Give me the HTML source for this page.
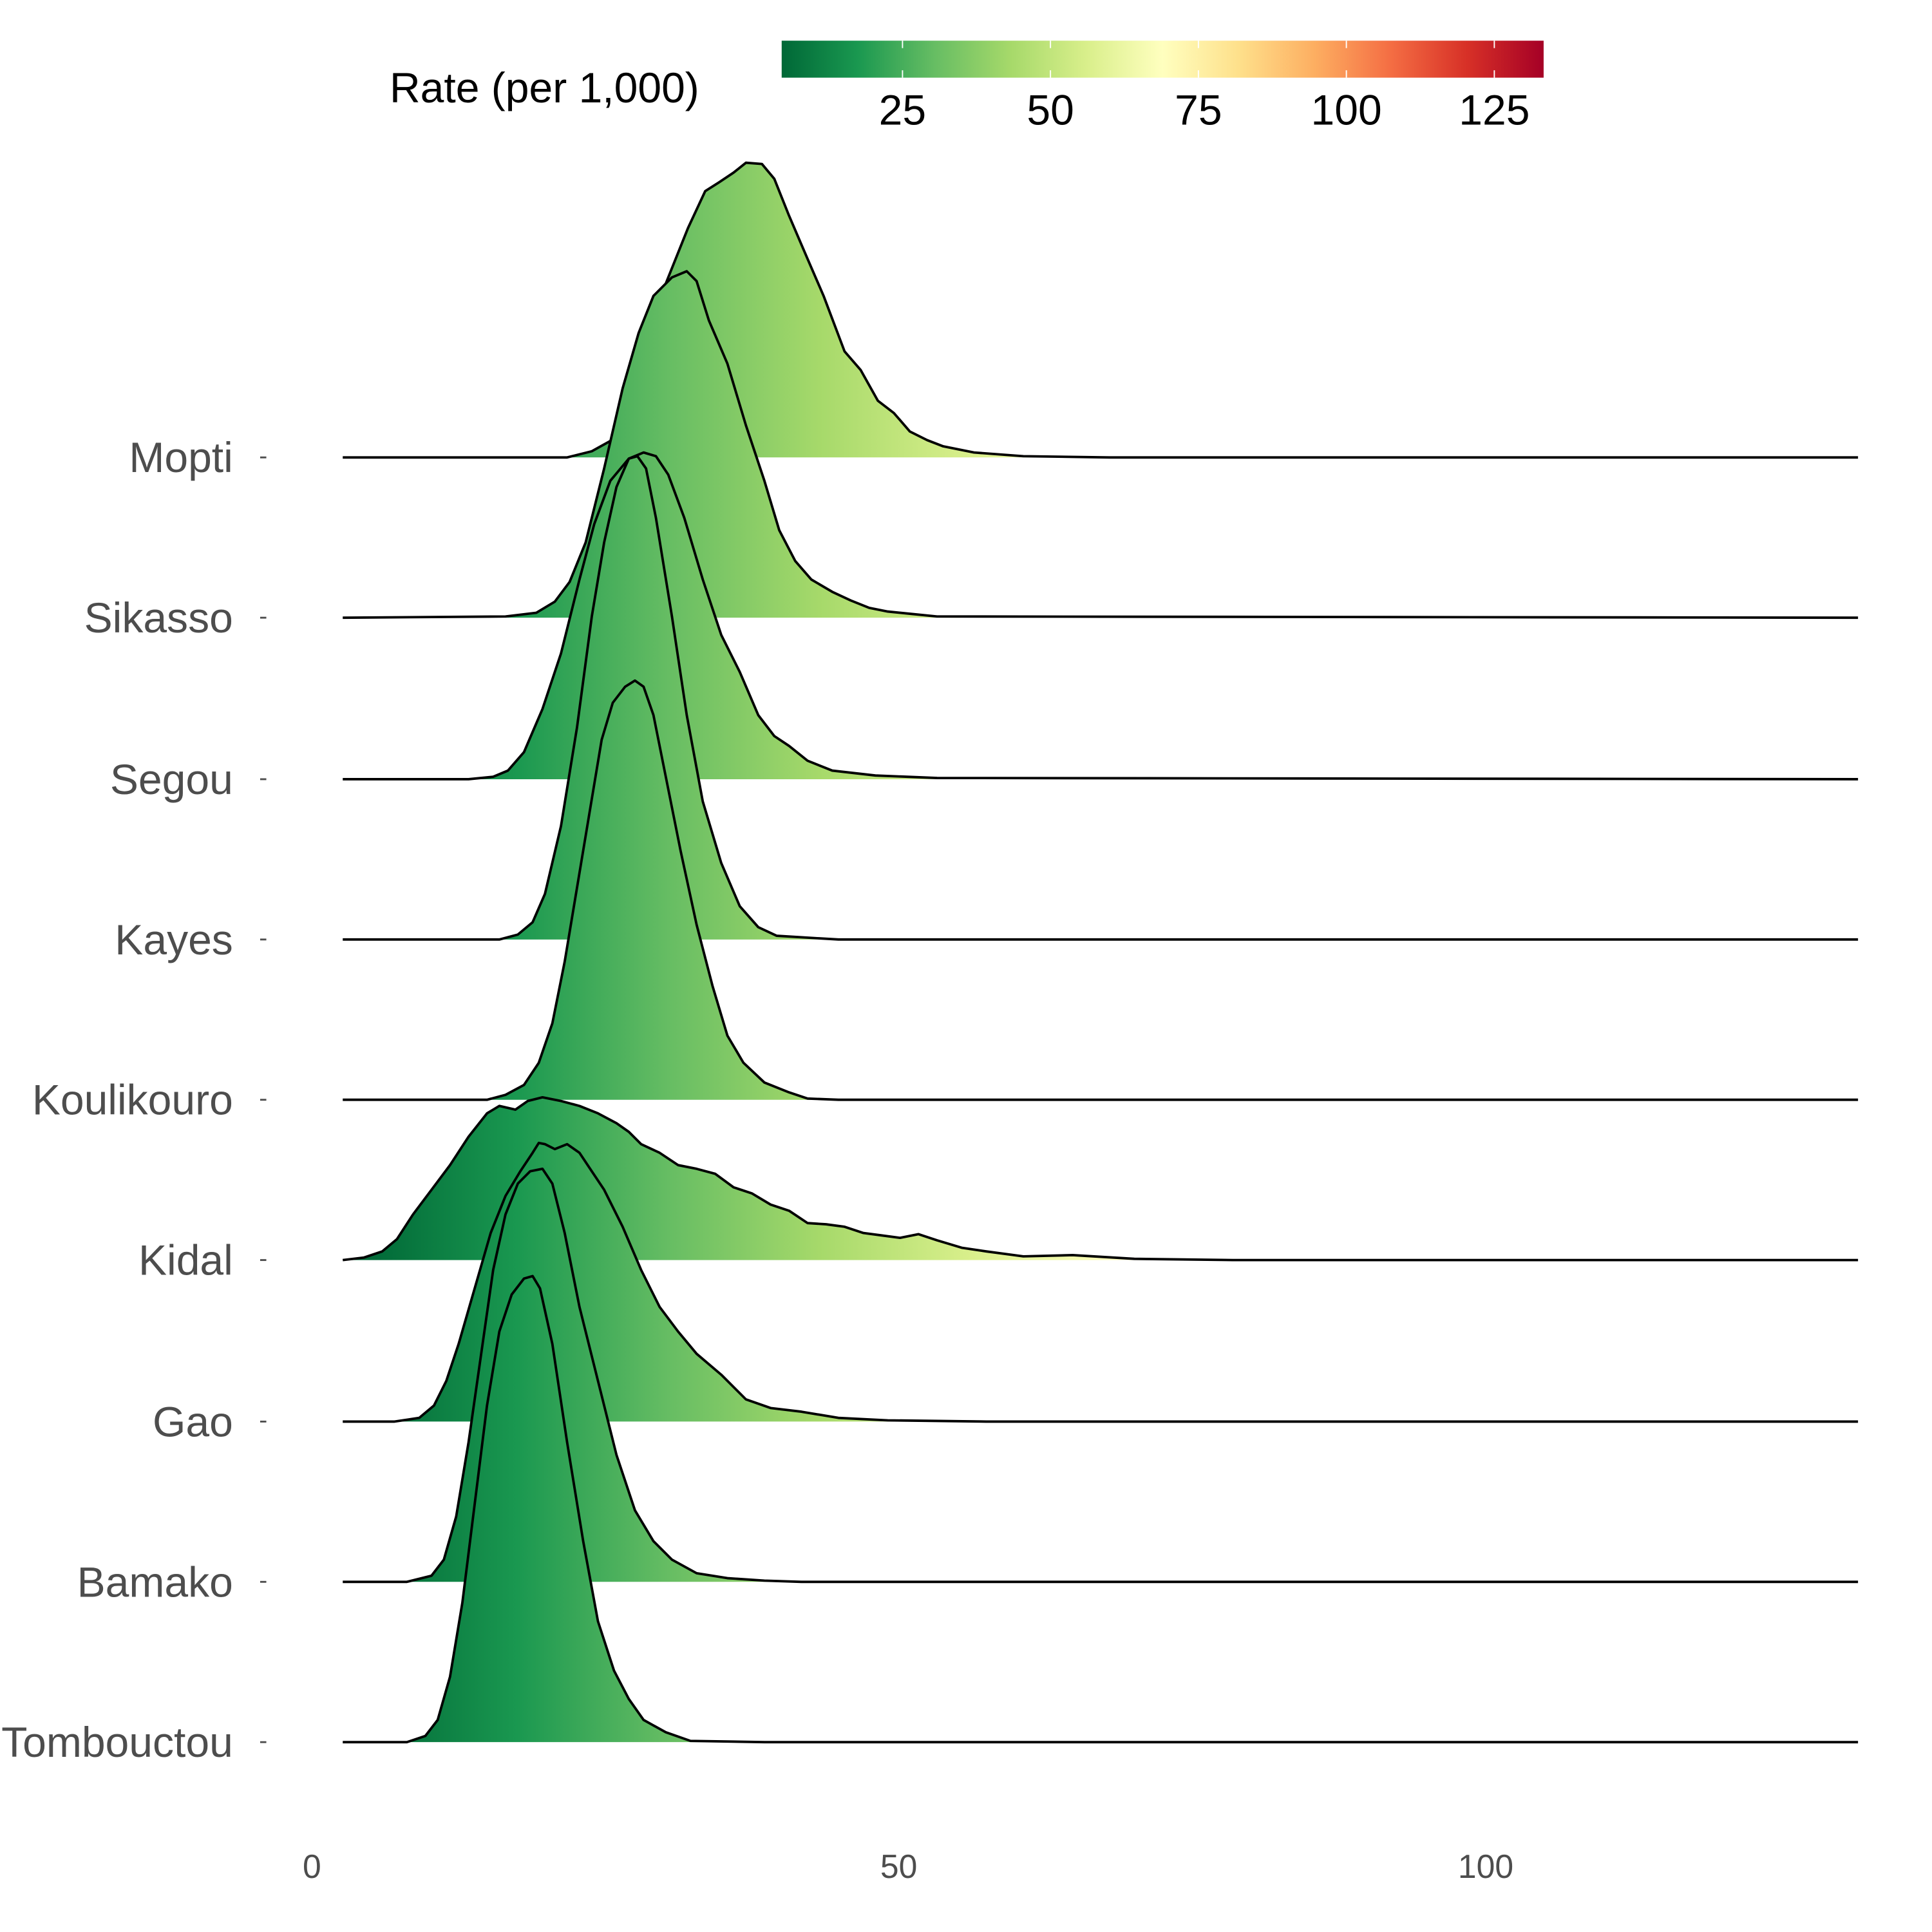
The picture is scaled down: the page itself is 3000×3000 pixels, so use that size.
<!DOCTYPE html>
<html><head><meta charset="utf-8"><style>html,body{margin:0;padding:0;background:#fff}svg{display:block}</style></head>
<body>
<svg xmlns="http://www.w3.org/2000/svg" width="3000" height="3000" viewBox="0 0 1567 1567" font-family="Liberation Sans, Arial, sans-serif">
<defs>
<linearGradient id="g" gradientUnits="userSpaceOnUse" x1="297" y1="0" x2="1522" y2="0">
<stop offset="0" stop-color="#006837"/><stop offset="0.1" stop-color="#1a9850"/><stop offset="0.2" stop-color="#66bd63"/><stop offset="0.3" stop-color="#a6d96a"/><stop offset="0.4" stop-color="#d9ef8b"/><stop offset="0.5" stop-color="#ffffbf"/><stop offset="0.6" stop-color="#fee08b"/><stop offset="0.7" stop-color="#fdae61"/><stop offset="0.8" stop-color="#f46d43"/><stop offset="0.9" stop-color="#d73027"/><stop offset="1" stop-color="#a50026"/>
</linearGradient>
<linearGradient id="cb" x1="0" y1="0" x2="1" y2="0">
<stop offset="0" stop-color="#006837"/><stop offset="0.1" stop-color="#1a9850"/><stop offset="0.2" stop-color="#66bd63"/><stop offset="0.3" stop-color="#a6d96a"/><stop offset="0.4" stop-color="#d9ef8b"/><stop offset="0.5" stop-color="#ffffbf"/><stop offset="0.6" stop-color="#fee08b"/><stop offset="0.7" stop-color="#fdae61"/><stop offset="0.8" stop-color="#f46d43"/><stop offset="0.9" stop-color="#d73027"/><stop offset="1" stop-color="#a50026"/>
</linearGradient>
</defs>
<rect width="1567" height="1567" fill="#fff"/>
<rect x="634" y="33" width="618" height="30" fill="url(#cb)"/>
<g stroke="#fff" stroke-width="1">
<line x1="732" y1="33" x2="732" y2="39"/><line x1="732" y1="57" x2="732" y2="63"/>
<line x1="852" y1="33" x2="852" y2="39"/><line x1="852" y1="57" x2="852" y2="63"/>
<line x1="972" y1="33" x2="972" y2="39"/><line x1="972" y1="57" x2="972" y2="63"/>
<line x1="1092" y1="33" x2="1092" y2="39"/><line x1="1092" y1="57" x2="1092" y2="63"/>
<line x1="1212" y1="33" x2="1212" y2="39"/><line x1="1212" y1="57" x2="1212" y2="63"/>
</g>
<g font-size="34.5" fill="#000" text-anchor="middle">
<text x="732" y="101">25</text><text x="852" y="101">50</text><text x="972" y="101">75</text><text x="1092" y="101">100</text><text x="1212" y="101">125</text>
</g>
<text x="316" y="83" font-size="34.5" fill="#000">Rate (per 1,000)</text>

<g stroke="#000" stroke-width="2" stroke-linejoin="round">
<polygon fill="url(#g)" stroke="none" points="460,371 480,366 498,356 505,345 520,295 540,230 558,185 572,155 583,148 595,140 605,132 618,133 628,145 640,175 655,210 668,240 685,285 698,300 712,325 725,335 738,350 752,357 765,362 790,367 830,370 900,371"/>
<polyline fill="none" points="278,371 460,371 480,366 498,356 505,345 520,295 540,230 558,185 572,155 583,148 595,140 605,132 618,133 628,145 640,175 655,210 668,240 685,285 698,300 712,325 725,335 738,350 752,357 765,362 790,367 830,370 900,371 1507,371"/>

<polygon fill="url(#g)" stroke="none" points="410,501 435,497 450,488 462,472 475,440 490,380 505,315 518,270 530,240 545,225 557,220 565,228 575,260 590,295 605,345 620,390 632,430 645,455 658,470 675,480 690,487 705,493 720,496 740,498 760,500 780,501"/>
<polyline fill="none" points="278,501 410,500 435,497 450,488 462,472 475,440 490,380 505,315 518,270 530,240 545,225 557,220 565,228 575,260 590,295 605,345 620,390 632,430 645,455 658,470 675,480 690,487 705,493 720,496 740,498 760,500 1507,501"/>

<polygon fill="url(#g)" stroke="none" points="380,632 400,630 412,625 425,610 440,575 455,530 470,470 482,425 495,390 510,372 522,367 532,370 542,385 555,420 570,470 585,515 600,545 615,580 628,597 640,605 655,617 675,625 710,629 760,631 780,632"/>
<polyline fill="none" points="278,632 380,632 400,630 412,625 425,610 440,575 455,530 470,470 482,425 495,390 510,372 522,367 532,370 542,385 555,420 570,470 585,515 600,545 615,580 628,597 640,605 655,617 675,625 710,629 760,631 1507,632"/>

<polygon fill="url(#g)" stroke="none" points="405,762 420,758 432,748 442,725 455,670 468,590 480,500 490,440 500,395 510,372 517,370 524,380 532,420 545,500 557,580 570,650 585,700 600,735 615,752 630,759 680,762"/>
<polyline fill="none" points="278,762 405,762 420,758 432,748 442,725 455,670 468,590 480,500 490,440 500,395 510,372 517,370 524,380 532,420 545,500 557,580 570,650 585,700 600,735 615,752 630,759 680,762 1507,762"/>

<polygon fill="url(#g)" stroke="none" points="395,892 410,888 425,880 437,862 448,830 458,780 468,720 478,660 488,600 497,570 507,557 515,552 522,557 530,580 540,630 552,690 565,750 578,800 590,840 603,862 620,878 640,886 655,891 680,892"/>
<polyline fill="none" points="278,892 395,892 410,888 425,880 437,862 448,830 458,780 468,720 478,660 488,600 497,570 507,557 515,552 522,557 530,580 540,630 552,690 565,750 578,800 590,840 603,862 620,878 640,886 655,891 680,892 1507,892"/>

<polygon fill="url(#g)" stroke="none" points="278,1022 295,1020 310,1015 322,1005 335,985 350,965 365,945 380,922 395,903 405,897 418,900 428,893 440,890 455,893 470,897 485,903 500,911 510,918 520,928 535,935 550,945 565,948 580,952 595,963 610,968 625,977 640,982 655,992 670,993 685,995 700,1000 715,1002 730,1004 745,1001 760,1006 780,1012 800,1015 830,1019 870,1018 920,1021 1000,1022"/>
<polyline fill="none" points="278,1022 295,1020 310,1015 322,1005 335,985 350,965 365,945 380,922 395,903 405,897 418,900 428,893 440,890 455,893 470,897 485,903 500,911 510,918 520,928 535,935 550,945 565,948 580,952 595,963 610,968 625,977 640,982 655,992 670,993 685,995 700,1000 715,1002 730,1004 745,1001 760,1006 780,1012 800,1015 830,1019 870,1018 920,1021 1000,1022 1507,1022"/>

<polygon fill="url(#g)" stroke="none" points="320,1153 340,1150 352,1140 362,1120 372,1090 385,1045 398,1000 410,970 422,950 432,935 437,927 442,928 450,932 460,928 470,935 480,950 490,965 505,995 520,1030 535,1060 550,1080 565,1098 585,1115 605,1135 625,1142 650,1145 680,1150 720,1152 800,1153"/>
<polyline fill="none" points="278,1153 320,1153 340,1150 352,1140 362,1120 372,1090 385,1045 398,1000 410,970 422,950 432,935 437,927 442,928 450,932 460,928 470,935 480,950 490,965 505,995 520,1030 535,1060 550,1080 565,1098 585,1115 605,1135 625,1142 650,1145 680,1150 720,1152 800,1153 1507,1153"/>

<polygon fill="url(#g)" stroke="none" points="330,1283 350,1278 360,1265 370,1230 380,1170 390,1100 400,1030 410,985 420,960 430,950 440,948 448,960 458,1000 470,1060 485,1120 500,1180 515,1225 530,1250 545,1265 565,1276 590,1280 620,1282 650,1283"/>
<polyline fill="none" points="278,1283 330,1283 350,1278 360,1265 370,1230 380,1170 390,1100 400,1030 410,985 420,960 430,950 440,948 448,960 458,1000 470,1060 485,1120 500,1180 515,1225 530,1250 545,1265 565,1276 590,1280 620,1282 650,1283 1507,1283"/>

<polygon fill="url(#g)" stroke="none" points="330,1413 345,1408 355,1395 365,1360 375,1300 385,1220 395,1140 405,1080 415,1050 425,1037 432,1035 438,1045 448,1090 460,1170 473,1250 485,1315 498,1355 510,1378 522,1395 540,1405 560,1412 620,1413"/>
<polyline fill="none" points="278,1413 330,1413 345,1408 355,1395 365,1360 375,1300 385,1220 395,1140 405,1080 415,1050 425,1037 432,1035 438,1045 448,1090 460,1170 473,1250 485,1315 498,1355 510,1378 522,1395 540,1405 560,1412 620,1413 1507,1413"/>
</g>

<g font-size="34.5" fill="#4d4d4d" text-anchor="end">
<text x="189" y="383">Mopti</text>
<text x="189" y="513">Sikasso</text>
<text x="189" y="644">Segou</text>
<text x="189" y="774">Kayes</text>
<text x="189" y="904">Koulikouro</text>
<text x="189" y="1034">Kidal</text>
<text x="189" y="1165">Gao</text>
<text x="189" y="1295">Bamako</text>
<text x="189" y="1425">Tombouctou</text>
</g>
<g stroke="#4d4d4d" stroke-width="1.5">
<line x1="211" y1="371" x2="216" y2="371"/><line x1="211" y1="501" x2="216" y2="501"/><line x1="211" y1="632" x2="216" y2="632"/><line x1="211" y1="762" x2="216" y2="762"/><line x1="211" y1="892" x2="216" y2="892"/><line x1="211" y1="1022" x2="216" y2="1022"/><line x1="211" y1="1153" x2="216" y2="1153"/><line x1="211" y1="1283" x2="216" y2="1283"/><line x1="211" y1="1413" x2="216" y2="1413"/>
</g>
<g font-size="27" fill="#4d4d4d" text-anchor="middle">
<text x="253" y="1523">0</text><text x="729" y="1523">50</text><text x="1205" y="1523">100</text>
</g>
</svg>
</body></html>
